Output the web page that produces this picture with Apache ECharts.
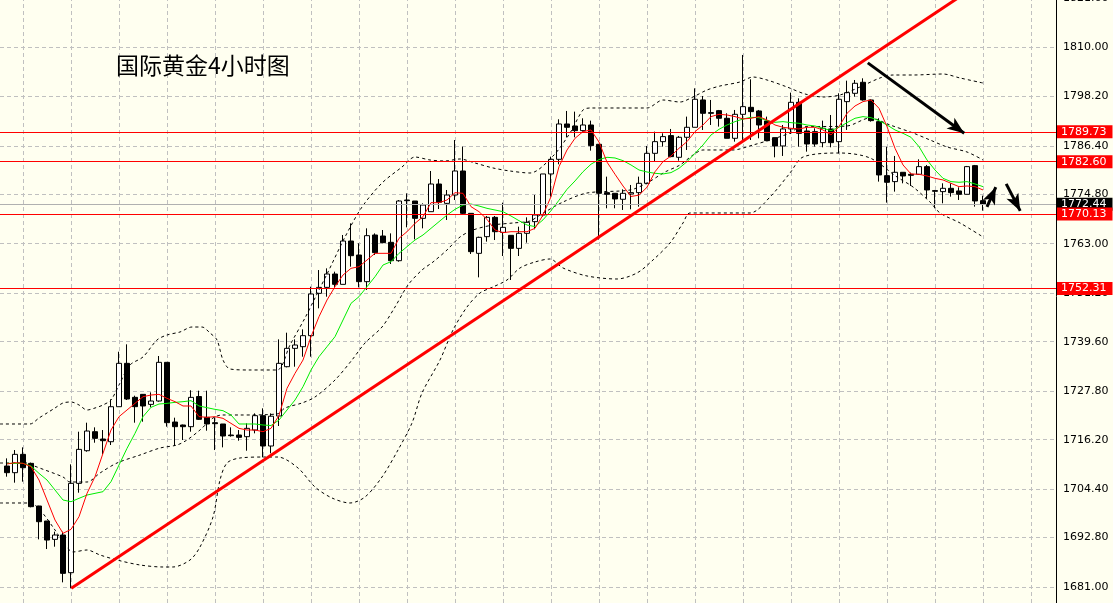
<!DOCTYPE html>
<html><head><meta charset="utf-8">
<script src="https://cdn.jsdelivr.net/npm/echarts@6/dist/echarts.min.js"></script>
<style>html,body{margin:0;padding:0;background:#fffff0;overflow:hidden;width:1113px;height:603px}#c{width:1113px;height:613px;margin-top:-10px}</style>
</head><body><div id="c"></div>
<script>
const titleText = '国际黄金4小时图';
const opens = [1709.90,1708.31,1712.69,1710.54,1700.35,1696.76,1692.38,1693.42,1684.42,1705.76,
1713.56,1718.10,1716.35,1715.71,1724.07,1734.43,1726.31,1727.02,1724.63,1725.43,
1734.67,1720.41,1719.70,1719.30,1726.50,1721.53,1720.25,1719.94,1717.31,1717.31,
1716.91,1718.50,1721.93,1714.68,1721.85,1733.63,1738.01,1738.41,1741.04,1751.15,
1752.58,1755.77,1753.30,1763.65,1760.31,1753.94,1765.09,1764.85,1763.34,1758.95,
1773.45,1773.21,1769.07,1770.66,1777.27,1772.65,1774.64,1780.38,1770.26,1760.71,
1764.69,1769.31,1765.72,1765.01,1761.90,1765.49,1768.28,1769.87,1779.67,1783.17,
1791.61,1791.13,1790.02,1791.37,1786.76,1775.21,1775.05,1773.62,1774.89,1775.21,
1777.44,1784.60,1787.39,1788.83,1783.65,1788.43,1790.82,1797.35,1794.32,1794.80,
1792.97,1788.19,1793.92,1795.59,1794.72,1792.33,1788.35,1786.36,1790.42,1796.79,
1789.94,1789.78,1787.15,1790.42,1787.39,1796.95,1798.94,1801.57,1797.35,1792.17,
1779.27,1777.84,1780.07,1779.59,1779.59,1781.42,1775.69,1775.45,1776.24,1775.61,
1774.81,1781.66,1773.30];
const closes = [1708.31,1712.69,1709.50,1700.19,1696.60,1692.22,1693.42,1684.26,1705.76,1713.88,
1718.26,1716.51,1715.95,1724.07,1734.43,1725.91,1724.08,1724.24,1725.43,1734.67,
1720.25,1719.30,1719.30,1726.30,1721.05,1719.94,1720.02,1717.07,1717.15,1716.75,
1718.90,1721.93,1714.68,1721.80,1734.43,1738.01,1738.81,1741.04,1751.00,1752.58,
1755.77,1753.30,1763.65,1760.15,1753.94,1764.93,1760.87,1763.26,1758.95,1773.21,
1773.29,1769.07,1772.25,1777.27,1772.89,1774.64,1780.38,1770.26,1761.11,1764.53,
1769.31,1765.88,1766.92,1761.90,1765.49,1768.11,1769.87,1779.67,1783.17,1791.61,
1790.82,1790.02,1791.37,1786.44,1775.05,1774.81,1773.70,1775.05,1775.21,1777.44,
1784.60,1787.39,1788.59,1783.81,1788.43,1790.82,1797.51,1794.16,1794.16,1792.97,
1788.19,1793.92,1795.75,1794.56,1791.37,1787.63,1786.36,1790.42,1796.79,1789.38,
1786.83,1786.83,1790.58,1787.15,1797.51,1799.10,1801.33,1797.35,1792.41,1779.43,
1777.68,1780.07,1779.19,1779.35,1781.42,1775.85,1775.53,1776.24,1775.21,1774.81,
1781.42,1773.22,1772.44];
const lows = [1707.35,1705.92,1706.16,1700.03,1692.38,1690.07,1690.63,1682.11,1680.68,1703.53,
1713.32,1715.47,1712.77,1714.92,1724.07,1725.67,1720.25,1720.49,1723.92,1725.27,
1719.30,1714.68,1716.11,1718.10,1720.90,1718.34,1713.72,1714.36,1716.91,1715.95,
1713.56,1717.71,1711.97,1712.93,1719.46,1733.47,1733.63,1736.02,1736.02,1747.57,
1750.35,1752.35,1753.30,1757.52,1752.58,1751.95,1760.31,1763.10,1758.16,1758.71,
1766.92,1764.05,1766.68,1770.66,1771.30,1768.67,1773.45,1769.86,1760.55,1754.97,
1763.50,1763.89,1760.07,1754.34,1760.07,1763.26,1766.45,1769.48,1774.25,1781.98,
1788.43,1788.43,1789.78,1785.24,1764.00,1771.47,1771.47,1771.07,1771.23,1771.86,
1777.20,1782.77,1786.20,1783.65,1782.85,1785.40,1790.82,1790.18,1791.37,1790.98,
1788.19,1787.39,1787.79,1787.79,1788.19,1787.63,1783.65,1783.97,1789.22,1786.20,
1785.00,1786.20,1786.04,1786.04,1784.60,1790.18,1798.14,1797.20,1792.17,1777.84,
1772.82,1775.45,1777.44,1776.80,1779.43,1773.86,1771.47,1772.66,1774.25,1773.46,
1774.81,1771.86,1770.91];
const highs = [1711.73,1713.72,1714.36,1710.70,1700.40,1696.76,1694.22,1694.22,1710.30,1718.10,
1720.25,1719.14,1718.50,1725.83,1737.21,1738.97,1726.70,1727.10,1727.50,1736.18,
1734.67,1721.45,1719.80,1728.00,1727.90,1727.90,1721.53,1719.94,1719.14,1718.50,
1720.09,1722.48,1723.68,1722.48,1740.16,1741.75,1740.16,1742.55,1752.74,1756.72,
1757.12,1756.33,1765.09,1767.87,1763.10,1766.68,1765.48,1766.28,1765.48,1773.45,
1775.04,1773.21,1772.65,1780.38,1778.46,1775.84,1787.78,1786.19,1770.26,1764.69,
1769.63,1769.63,1772.81,1765.01,1767.08,1769.31,1774.65,1779.67,1783.81,1792.73,
1794.72,1794.56,1792.97,1792.41,1786.76,1779.03,1775.05,1776.00,1777.04,1779.03,
1786.36,1789.78,1789.38,1790.42,1788.75,1793.37,1800.13,1798.30,1797.35,1794.96,
1794.16,1794.96,1808.10,1802.28,1794.96,1793.37,1788.35,1791.37,1799.10,1797.74,
1790.98,1790.58,1792.41,1793.76,1798.94,1801.96,1802.12,1802.52,1797.51,1792.97,
1786.20,1783.97,1780.07,1779.99,1783.17,1781.82,1775.85,1777.44,1777.44,1776.48,
1781.58,1781.82,1774.49];
const maFast = [1710.38,1710.70,1710.54,1709.74,1706.56,1701.78,1697.00,1693.82,1694.77,1697.80,
1703.37,1707.35,1712.93,1718.50,1721.69,1723.28,1724.87,1726.46,1726.86,1727.02,
1726.07,1725.27,1724.24,1724.24,1721.69,1721.53,1721.69,1721.29,1720.09,1718.90,
1718.50,1718.50,1718.10,1718.90,1722.00,1728.46,1732.04,1735.22,1740.80,1745.58,
1749.56,1752.74,1755.53,1757.12,1757.52,1759.11,1760.71,1760.71,1760.71,1764.29,
1765.88,1767.87,1769.47,1772.81,1772.81,1773.45,1775.20,1775.04,1771.86,1770.66,
1768.83,1766.28,1765.64,1765.88,1765.88,1765.88,1766.69,1769.87,1774.25,1781.42,
1785.40,1788.19,1789.78,1790.18,1787.30,1782.50,1779.60,1776.80,1774.30,1774.60,
1776.50,1780.20,1782.61,1783.97,1785.80,1787.39,1789.78,1791.37,1793.37,1793.92,
1793.76,1793.37,1792.81,1792.97,1793.37,1792.57,1791.37,1790.82,1790.58,1790.42,
1790.82,1790.82,1790.18,1788.99,1790.98,1794.16,1795.91,1796.95,1797.35,1795.36,
1790.98,1785.80,1781.82,1779.67,1779.59,1779.19,1778.63,1778.24,1777.44,1776.64,
1776.80,1776.64,1775.85];
const maSlow = [1710.54,1710.54,1710.54,1709.90,1708.15,1706.56,1704.17,1701.78,1701.38,1702.18,
1702.97,1703.37,1703.77,1706.16,1710.14,1714.12,1717.71,1721.69,1723.92,1724.71,
1724.87,1725.11,1725.27,1725.51,1724.24,1723.84,1723.44,1723.12,1722.09,1719.94,
1719.94,1719.94,1719.70,1719.58,1720.89,1723.28,1725.67,1728.85,1732.84,1736.02,
1738.41,1740.80,1744.78,1748.76,1750.35,1752.74,1755.13,1757.92,1758.72,1760.71,
1762.30,1763.89,1765.09,1766.68,1768.27,1769.86,1771.22,1772.25,1772.49,1772.01,
1771.46,1771.06,1770.66,1769.63,1768.51,1767.48,1767.09,1768.70,1770.90,1773.40,
1776.00,1778.00,1780.20,1782.00,1783.10,1783.65,1783.49,1782.85,1781.82,1780.62,
1780.14,1779.83,1779.67,1779.99,1781.02,1782.61,1784.60,1786.60,1788.98,1790.34,
1791.37,1792.17,1792.81,1793.20,1793.12,1792.41,1792.01,1792.17,1791.93,1791.77,
1791.37,1791.13,1790.58,1790.02,1790.82,1791.93,1792.97,1793.37,1793.12,1792.41,
1791.37,1790.18,1789.38,1788.43,1786.20,1783.01,1780.62,1778.63,1777.84,1777.68,
1777.84,1777.28,1776.64];
const bandUpper = [[-0.875,1719.94],[2.875,1719.94],[4,1721.37],[5,1722.57],[6,1723.76],[7,1724.96],[8,1725.20],[9,1724.48],[10,1723.28],[11,1723.76],[12,1724.48],[13,1725.67],[14,1729.26],[15.375,1734.04],[17,1735.95],[18.75,1740.01],[20,1741.20],[21.625,1741.92],[23.125,1743.11],[24.375,1743.11],[25.375,1741.68],[26.25,1740.01],[27,1735.23],[27.875,1733.08],[30.375,1732.84],[33.75,1732.84],[35.375,1738.82],[37.25,1745.27],[38.5,1750.04],[40.125,1756.25],[42.25,1764.61],[44.375,1771.78],[46.875,1777.51],[49.375,1781.33],[51,1783.72],[52.875,1783.01],[54.75,1782.77],[56.625,1783.25],[58.5,1782.29],[60.75,1781.10],[62.875,1780.38],[65.375,1779.90],[68.25,1783.96],[70.375,1789.46],[72,1794.95],[72.875,1795.43],[80,1795.43],[82,1797.34],[84.125,1796.86],[85.75,1798.06],[87.5,1799.73],[89.125,1800.68],[91.625,1801.64],[93.25,1802.83],[95,1802.12],[97.5,1800.45],[99.75,1798.78],[102,1798.06],[104.125,1798.54],[106.625,1800.45],[109.125,1802.60],[110.75,1803.31],[113.25,1803.31],[117,1803.55],[119.125,1802.60],[122,1801.40]];
const bandMiddle = [[-0.875,1710.62],[2.875,1710.62],[3.125,1710.14],[7,1707.28],[7.875,1706.08],[10,1706.08],[11.625,1708.23],[13.75,1710.62],[16.625,1712.53],[19.125,1714.20],[21.25,1714.92],[22.5,1716.12],[24.125,1718.51],[25.75,1721.37],[26.875,1722.09],[29.125,1722.09],[33.75,1722.33],[34.75,1723.76],[36.875,1724.96],[38.5,1726.39],[41,1730.45],[43.125,1735.23],[44.75,1739.29],[46.875,1743.11],[48.5,1747.89],[50.125,1753.14],[51.875,1756.73],[53.25,1758.64],[55,1761.51],[56.625,1764.61],[58.25,1766.28],[60.75,1767.48],[63.25,1767.96],[65.375,1768.43],[66.625,1769.87],[69.5,1772.97],[72.5,1775.12],[77.875,1775.84],[80,1777.51],[82.25,1780.14],[84.125,1781.81],[85.75,1784.20],[87,1785.40],[90.75,1785.40],[93.25,1786.59],[95.375,1787.79],[97.875,1789.46],[99.125,1790.89],[105,1791.13],[107.875,1793.04],[110.375,1791.37],[113.25,1789.46],[115.375,1787.79],[117.5,1786.12],[120,1784.92],[122,1783.01]];
const bandLower = [[-0.875,1701.07],[2.875,1701.07],[4.125,1699.40],[6,1694.62],[7.25,1691.04],[8.25,1689.37],[10,1689.84],[11.625,1688.65],[13.75,1687.45],[16.625,1686.26],[19.5,1685.78],[20.75,1685.78],[22.875,1687.45],[24.125,1690.56],[25.75,1697.73],[26.625,1706.56],[27.5,1710.62],[29.125,1711.82],[32.25,1712.05],[33.875,1712.05],[36.375,1709.43],[38.5,1704.89],[40.625,1702.26],[42.875,1701.07],[44.75,1702.50],[46.875,1707.28],[48.875,1713.73],[50.625,1720.18],[51.875,1727.34],[54.125,1735.23],[55.75,1742.40],[57.5,1747.89],[59.125,1751.23],[60.75,1752.67],[62.5,1754.34],[64.125,1757.21],[66,1758.64],[67.875,1759.36],[69.5,1757.21],[72.5,1755.30],[76.25,1754.58],[78.75,1756.02],[80.75,1759.12],[82.875,1763.18],[84.5,1767.96],[85.375,1770.35],[92.875,1770.35],[95.375,1774.17],[97.875,1779.90],[99.5,1783.72],[104.125,1784.68],[107.875,1783.49],[111.25,1778.95],[113.25,1776.56],[115.375,1772.97],[116.625,1770.35],[119.125,1767.96],[122,1764.62]];
const tickValues = [1681.00,1692.80,1704.40,1716.20,1727.80,1739.60,1751.20,1763.00,1774.80,1786.40,1798.20,1810.00,1821.60];
const levelValues = [1789.73,1782.60,1770.13,1752.31];
const currentPrice = 1772.44;
const trendLine = [[8.04,1680.70],[122,1825.70]];
const arrowLines = [
  [[107.6,1806.2],[119.65,1789.4]],
  [[122.5,1771.8],[123.6,1776.5]],
  [[124.9,1777.3],[126.65,1770.85]]
];
const vGridIdx = [2,8,14,20,26,32,38,44,50,56,62,68,74,80,86,92,98,104,110,116,122,128];

const chart = echarts.init(document.getElementById('c'), null, {renderer:'canvas'});
const candleData = opens.map((o,i)=>[i,o,closes[i],lows[i],highs[i]]);
const FONT = 'DejaVu Sans';
const gridMarks = tickValues.map(v=>({yAxis:v}))
  .concat(vGridIdx.map(v=>({xAxis:v, label:{show:false}})));

const option = {
  animation:false,
  backgroundColor:'#fffff0',
  title:{text:titleText,left:116,top:64,padding:0,
    textStyle:{fontSize:23,fontWeight:'normal',color:'#000',fontFamily:'Noto Sans CJK SC'}},
  grid:{left:0,right:57,top:0,bottom:0,containLabel:false},
  xAxis:{type:'value',min:-0.875,max:131.125,show:true,
    axisLine:{show:false},axisTick:{show:false},axisLabel:{show:false},splitLine:{show:false}},
  yAxis:{type:'value',position:'right',min:1677.178,max:1823.617,scale:true,
    axisLine:{show:true,onZero:false,lineStyle:{color:'#000',width:1}},axisTick:{show:false},
    axisLabel:{show:false},splitLine:{show:false}},
  series:[
    {type:'line',name:'grid',data:[],z:0,
      markLine:{silent:true,symbol:'none',z:0,animation:false,
        lineStyle:{color:'#c0c0c0',type:[4,3],width:1},
        label:{show:true,position:'end',distance:7,color:'#000',fontSize:11,fontFamily:FONT,
          formatter:p=>Number(p.value).toFixed(2)},
        emphasis:{disabled:true},
        data:gridMarks}},
    {type:'candlestick',name:'price',data:candleData,encode:{x:0,y:[1,2,3,4]},
      barWidth:5,z:2,
      itemStyle:{color:'#ffffff',color0:'#000000',borderColor:'#000000',borderColor0:'#000000',borderWidth:1}},
    {type:'line',name:'bbU',data:bandUpper,showSymbol:false,smooth:0.3,z:3,
      lineStyle:{color:'#000',width:1,type:[3,3]}},
    {type:'line',name:'bbM',data:bandMiddle,showSymbol:false,smooth:0.3,z:3,
      lineStyle:{color:'#000',width:1,type:[3,3]}},
    {type:'line',name:'bbL',data:bandLower,showSymbol:false,smooth:0.3,z:3,
      lineStyle:{color:'#000',width:1,type:[3,3]}},
    {type:'line',name:'maSlow',data:maSlow.map((v,i)=>[i,v]),showSymbol:false,z:4,
      lineStyle:{color:'#00ee00',width:1}},
    {type:'line',name:'maFast',data:maFast.map((v,i)=>[i,v]),showSymbol:false,z:5,
      lineStyle:{color:'#ff0000',width:1}},
    {type:'line',name:'levels',data:[],z:6,
      markLine:{silent:true,symbol:'none',z:6,animation:false,
        emphasis:{disabled:true},
        data:[{yAxis:currentPrice,lineStyle:{color:'#b0b0b0',type:'solid',width:1},
          label:{backgroundColor:'#000',color:'#fff'}}]
          .concat(levelValues.map(v=>({yAxis:v,lineStyle:{color:'#ff0000',type:'solid',width:1},
          label:{backgroundColor:'#ff0000',color:'#fff'}}))),
        label:{show:true,position:'end',distance:1,fontSize:11,fontFamily:FONT,padding:[1,6,1,4],
          formatter:p=>Number(p.value).toFixed(2)}}},
    {type:'line',name:'trend',data:trendLine,showSymbol:false,z:7,
      lineStyle:{color:'#ff0000',width:3}},
    {type:'line',name:'arrows',data:[],z:8,
      markLine:{silent:true,symbol:['none','arrow'],symbolSize:[10,17],z:8,animation:false,
        emphasis:{disabled:true},label:{show:false},
        lineStyle:{color:'#000',width:3,type:'solid'},
        data:arrowLines.map(a=>[{coord:a[0]},{coord:a[1]}])}}
  ]
};
chart.setOption(option);
</script></body></html>
